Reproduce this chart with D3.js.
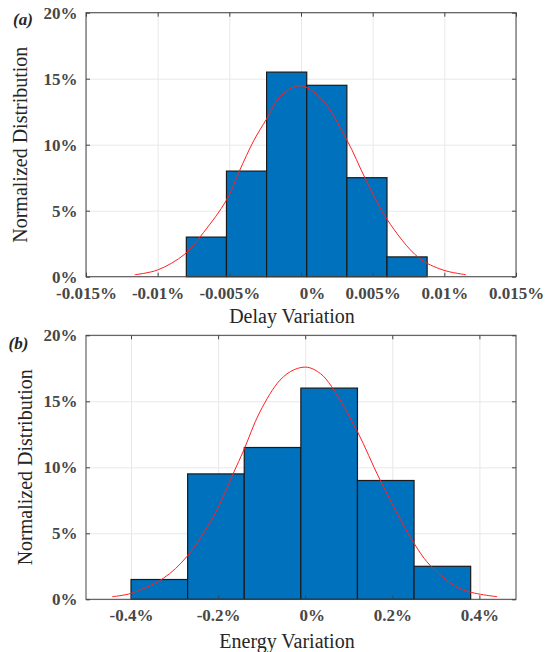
<!DOCTYPE html>
<html>
<head>
<meta charset="utf-8">
<script src="https://cdn.jsdelivr.net/npm/d3@7"></script>
<style>
  body { margin: 0; background: #fff; }
  svg { display: block; }
  .label { font-family: 'Liberation Serif', 'Times New Roman', serif; font-size: 20px; fill: #262626; }
  .panel { font-family: 'Liberation Serif', 'Times New Roman', serif; font-size: 17px; font-weight: bold; font-style: italic; fill: #262626; }
</style>
</head>
<body>
<svg id="chart" width="547" height="652"></svg>
<script>
  'use strict';

  // (a) delay variation histogram, in %
  var delayEdges = [-0.0080, -0.0052, -0.0024, 0.0004, 0.0032, 0.0060, 0.0088];
  var delayCounts = [3, 8, 15.5, 14.5, 7.5, 1.5];
  var delayFitX = [-0.0116, -0.0100, -0.0081, -0.0068, -0.0052, -0.0043, -0.0033, -0.0024, -0.0015, -0.0001,
                   0.0014, 0.0032, 0.0045, 0.0060, 0.0082, 0.0099, 0.0115];
  var delayFitY = [0.15, 0.51, 1.72, 3.35, 5.8, 8.0, 10.3, 11.95, 13.6, 14.47,
                   13.5, 10.36, 7.4, 4.35, 1.45, 0.51, 0.15];
  var delayTicks = [-0.015, -0.01, -0.005, 0, 0.005, 0.01, 0.015];
  var delayTickLabels = ['-0.015%', '-0.01%', '-0.005%', '0%', '0.005%', '0.01%', '0.015%'];

  // (b) energy variation histogram, in %
  var energyEdges = [-0.40, -0.27, -0.14, -0.01, 0.12, 0.25, 0.38];
  var energyCounts = [1.5, 9.5, 11.5, 16, 9, 2.5];
  var energyFitX = [-0.443, -0.400, -0.326, -0.272, -0.211, -0.165, -0.141, -0.104, -0.058, -0.025,
                    0.005, 0.035, 0.061, 0.120, 0.172, 0.250, 0.290, 0.359, 0.441];
  var energyFitY = [0.2, 0.45, 1.59, 3.23, 6.26, 9.55, 11.31, 14.2, 16.6, 17.4,
                    17.58, 17.1, 16.1, 12.7, 9.04, 4.24, 2.47, 0.76, 0.2];
  var energyTicks = [-0.4, -0.2, 0, 0.2, 0.4];
  var energyTickLabels = ['-0.4%', '-0.2%', '0%', '0.2%', '0.4%'];

  var yTicks = [0, 5, 10, 15, 20];
  var yTickLabels = ['0%', '5%', '10%', '15%', '20%'];

  var svg = d3.select('#chart');
  var left = 86, right = 516;
  var serif = "'Liberation Serif', 'Times New Roman', serif";

  function drawPanel(p){
    var w = right - left, h = p.bottom - p.top;
    var g = svg.append('g').attr('transform', 'translate(' + left + ',' + p.top + ')');

    var x = d3.scaleLinear().domain(p.xDomain).range([0, w]);
    var y = d3.scaleLinear().domain([0, 20]).range([h, 0]);

    // grid
    g.append('g')
        .attr('transform', 'translate(0,' + h + ')')
        .call(d3.axisBottom(x).tickValues(p.ticks).tickSize(-h).tickFormat(''))
        .call(function(s){ s.select('.domain').remove(); s.selectAll('line').attr('stroke', '#e8e8e8'); });
    g.append('g')
        .call(d3.axisLeft(y).tickValues(yTicks).tickSize(-w).tickFormat(''))
        .call(function(s){ s.select('.domain').remove(); s.selectAll('line').attr('stroke', '#e8e8e8'); });

    // bars
    var bins = p.counts.map(function(c, i){ return { x0: p.edges[i], x1: p.edges[i + 1], v: c }; });
    g.selectAll('.bar')
        .data(bins)
        .enter().append('rect')
        .attr('class', 'bar')
        .attr('x', function(d){ return x(d.x0); })
        .attr('width', function(d){ return x(d.x1) - x(d.x0); })
        .attr('y', function(d){ return y(d.v); })
        .attr('height', function(d){ return y(0) - y(d.v); })
        .style('fill', '#0072bd')
        .style('stroke', '#1a1a1a')
        .style('stroke-width', 1.2);

    // normal fit
    var line = d3.line()
        .x(function(d){ return x(d[0]); })
        .y(function(d){ return y(d[1]); })
        .curve(d3.curveCatmullRom);
    g.append('path')
        .datum(d3.zip(p.fitX, p.fitY))
        .attr('d', line)
        .style('fill', 'none')
        .style('stroke', '#ff2020')
        .style('stroke-width', 1);

    // axes, ticks pointing inward on all four sides
    function axisStyle(s){
      s.select('.domain').remove();
      s.attr('font-family', serif).attr('font-size', 17).attr('font-weight', 'bold');
      s.selectAll('.tick line').attr('stroke', '#444');
      s.selectAll('.tick text').attr('fill', '#474747');
    }
    g.append('g')
        .attr('transform', 'translate(0,' + h + ')')
        .call(d3.axisBottom(x).tickValues(p.ticks).tickSizeInner(-4).tickSizeOuter(0).tickPadding(10)
          .tickFormat(function(d, i){ return p.tickLabels[i]; }))
        .call(axisStyle)
        .selectAll('text')
        .attr('dx', function(d){ return d === 0 ? p.zeroShift : 0; });
    g.append('g')
        .call(d3.axisTop(x).tickValues(p.ticks).tickSizeInner(-4).tickSizeOuter(0).tickFormat(''))
        .call(axisStyle);
    g.append('g')
        .call(d3.axisLeft(y).tickValues(yTicks).tickSizeInner(-4).tickSizeOuter(0).tickPadding(8.5)
          .tickFormat(function(d, i){ return yTickLabels[i]; }))
        .call(axisStyle);
    g.append('g')
        .attr('transform', 'translate(' + w + ',0)')
        .call(d3.axisRight(y).tickValues(yTicks).tickSizeInner(-4).tickSizeOuter(0).tickFormat(''))
        .call(axisStyle);

    // box
    g.append('rect')
        .attr('width', w).attr('height', h)
        .style('fill', 'none')
        .style('stroke', '#444')
        .style('stroke-width', 1);

    // labels
    svg.append('text')
        .attr('class', 'label')
        .attr('x', p.xLabelX).attr('y', p.xLabelY)
        .style('text-anchor', 'middle')
        .text(p.xLabel);
    svg.append('text')
        .attr('class', 'label')
        .attr('transform', 'translate(' + p.yLabelX + ',' + (p.top + h / 2) + ') rotate(-90)')
        .style('text-anchor', 'middle')
        .text('Normalized Distribution');
    svg.append('text')
        .attr('class', 'panel')
        .attr('x', p.tagX).attr('y', p.tagY)
        .text(p.tag);
  }

  drawPanel({
    top: 12.7, bottom: 276.7, xDomain: [-0.015, 0.015],
    edges: delayEdges, counts: delayCounts, fitX: delayFitX, fitY: delayFitY,
    ticks: delayTicks, tickLabels: delayTickLabels, zeroShift: 11,
    xLabel: 'Delay Variation', xLabelX: 292, xLabelY: 323,
    yLabelX: 27, tag: '(a)', tagX: 13, tagY: 25
  });

  drawPanel({
    top: 335.3, bottom: 599.3, xDomain: [-0.5034, 0.4841],
    edges: energyEdges, counts: energyCounts, fitX: energyFitX, fitY: energyFitY,
    ticks: energyTicks, tickLabels: energyTickLabels, zeroShift: 6.5,
    xLabel: 'Energy Variation', xLabelX: 287, xLabelY: 648,
    yLabelX: 31.5, tag: '(b)', tagX: 8.5, tagY: 349
  });
</script>
</body>
</html>
